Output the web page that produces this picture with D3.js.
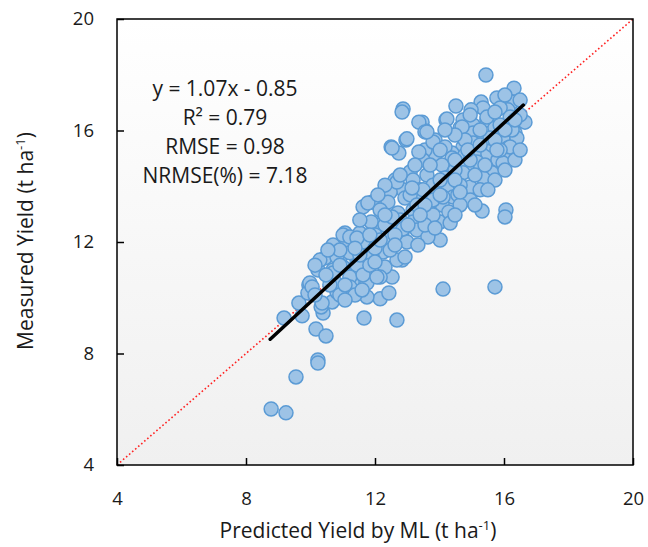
<!DOCTYPE html>
<html>
<head>
<meta charset="utf-8">
<script src="https://cdn.jsdelivr.net/npm/d3@7"></script>
<style>
  html, body { margin: 0; padding: 0; background: #ffffff; }
  svg { display: block; }
  text { font-family: "Open Sans", "Noto Sans", sans-serif; fill: #1a1a1a; }
</style>
</head>
<body>
<svg id="chart" width="648" height="547"></svg>
<script>
// Predicted yield by ML (t/ha) for each field observation
const predicted = [
  8.78, 9.24, 9.55, 10.23, 10.23, 10.17, 10.48, 9.18, 9.74, 9.64,
  9.95, 9.92, 10.39, 10.33, 10.67, 10.82, 11.66, 12.68, 14.11, 15.72,
  12.16, 11.75, 12.43, 12.53, 15.32, 16.06, 16.03, 15.44, 16.31, 12.87,
  15.78, 14.51, 15.29, 15.35, 14.98, 16.25, 16.12, 15.88, 14.20, 13.46,
  13.58, 13.86, 14.73, 15.04, 15.47, 14.64, 15.04, 15.72, 16.65, 16.34,
  15.97, 16.40, 15.35, 14.73, 14.39, 13.86, 13.55, 13.49, 15.16, 15.50,
  16.12, 15.81, 16.19, 15.16, 14.85, 14.33, 15.63, 12.84, 13.36, 13.55,
  14.70, 15.47, 16.19, 12.96, 12.50, 12.74, 13.36, 13.80, 14.17, 14.39,
  15.04, 15.57, 16.19, 15.97, 14.79, 14.08, 13.09, 12.62, 13.18, 13.61,
  14.17, 14.73, 14.95, 15.63, 15.35, 14.26, 13.80, 13.40, 12.87, 12.47,
  12.40, 12.93, 13.40, 13.92, 14.42, 11.91, 12.16, 12.71, 13.18, 13.64,
  14.08, 14.33, 13.80, 13.18, 12.68, 12.09, 11.63, 11.78, 12.68, 13.09,
  13.30, 11.88, 12.31, 12.78, 13.71, 14.02, 13.64, 14.02, 13.30, 12.84,
  12.47, 12.99, 12.00, 11.53, 11.07, 10.70, 11.22, 11.69, 12.25, 12.84,
  10.45, 10.91, 11.44, 11.91, 12.31, 10.70, 11.16, 11.69, 12.16, 9.98,
  10.76, 11.29, 11.75, 11.13, 11.63, 10.82, 11.22, 12.68, 11.01, 11.44,
  10.70, 11.22, 11.63, 12.06, 10.60, 11.22, 10.05, 10.36, 14.29, 14.33,
  13.64, 12.87, 12.53, 12.93, 13.80, 13.80, 14.11, 14.57, 14.23, 12.99,
  12.53, 13.61, 11.01, 11.22,
  15.88, 16.50, 16.34, 16.03, 15.72, 15.26, 14.95, 14.64, 14.48, 14.95,
  15.41, 15.88, 15.26, 14.79, 14.48, 14.17, 14.02, 14.48, 16.50, 16.25,
  14.64, 15.10, 15.50, 16.50, 16.03, 15.72,
  13.24, 12.78, 12.31, 12.09, 13.49, 12.31, 11.53, 12.62, 13.33, 12.00,
  12.47, 11.53, 13.55, 14.48, 13.15, 13.71, 14.02,
  10.23, 10.48, 10.14, 10.91, 11.38, 11.07, 10.29, 11.44, 11.84, 10.91,
  14.48, 14.88, 15.26, 15.72, 16.03, 14.95, 14.02, 13.55, 13.02, 12.62,
  12.16, 11.84, 11.38, 10.91, 10.54, 10.14, 11.07, 11.60, 12.00, 13.40,
  13.86, 14.64, 15.10, 16.34, 15.78
];

// Measured yield (t/ha), same order as predicted
const measured = [
  6.01, 5.87, 7.16, 7.77, 7.66, 8.88, 8.63, 9.27, 9.35, 9.81,
  10.46, 10.17, 9.45, 9.67, 9.85, 10.21, 9.27, 9.20, 10.31, 10.39,
  9.96, 10.03, 10.17, 10.74, 13.11, 13.15, 12.90, 17.99, 17.52, 16.77,
  17.17, 16.88, 17.02, 16.81, 16.74, 17.02, 16.74, 16.81, 16.38, 16.30,
  15.98, 15.66, 16.38, 16.20, 16.38, 16.09, 15.91, 16.09, 16.30, 15.91,
  15.73, 15.73, 15.66, 15.41, 15.19, 15.12, 15.30, 14.94, 15.30, 15.16,
  15.37, 14.94, 15.01, 14.87, 14.69, 14.69, 15.48, 16.66, 16.30, 15.95,
  16.13, 16.48, 16.48, 15.66, 15.41, 15.19, 15.23, 15.59, 15.41, 15.01,
  15.55, 15.73, 15.41, 14.83, 15.12, 14.76, 14.51, 14.22, 14.22, 14.40,
  14.30, 14.48, 13.97, 14.48, 14.30, 13.94, 14.04, 13.87, 13.87, 13.79,
  13.43, 13.58, 13.51, 13.69, 13.61, 13.43, 13.15, 13.04, 13.15, 13.15,
  13.33, 12.79, 12.86, 12.72, 12.72, 12.61, 13.26, 13.40, 14.15, 13.69,
  13.33, 12.72, 12.61, 12.79, 13.04, 12.72, 12.32, 12.07, 12.43, 12.36,
  12.14, 12.00, 12.25, 12.32, 12.32, 11.89, 11.89, 11.89, 11.64, 11.35,
  11.43, 11.43, 11.35, 11.46, 11.10, 11.00, 11.00, 10.92, 10.74, 10.53,
  10.56, 10.53, 10.53, 11.96, 12.00, 11.46, 11.61, 11.35, 11.10, 11.17,
  10.89, 10.74, 10.82, 10.74, 10.46, 10.39, 10.39, 9.81, 13.08, 12.68,
  12.18, 12.47, 12.90, 11.46, 12.97, 13.51, 13.61, 13.69, 16.41, 15.70,
  15.37, 15.95, 12.25, 12.18,
  16.20, 16.56, 14.94, 14.58, 14.22, 13.87, 13.51, 14.04, 14.58, 14.94,
  14.76, 15.30, 16.02, 15.66, 15.84, 16.02, 15.30, 14.22, 15.30, 16.02,
  13.33, 13.33, 13.87, 17.09, 17.27, 16.66,
  14.76, 14.40, 14.04, 13.69, 13.87, 12.97, 12.79, 12.25, 11.89, 11.78,
  11.71, 11.53, 12.61, 12.97, 13.94, 14.76, 14.22,
  11.00, 10.82, 10.10, 10.10, 10.10, 9.92, 11.35, 12.14, 11.17, 11.71,
  14.94, 15.30, 15.48, 15.66, 16.02, 16.56, 13.69, 13.33, 12.61, 11.89,
  12.07, 12.25, 11.78, 11.17, 11.71, 11.17, 10.46, 10.28, 11.28, 12.97,
  12.50, 13.79, 14.40, 16.38, 15.30
];

// Axis ticks and fitted statistics
const xTicks = [4, 8, 12, 16, 20];
const yTicks = [4, 8, 12, 16, 20];
const slope = 1.07;
const intercept = -0.85;
const fitRange = [8.75, 16.6];
const statLines = ["y = 1.07x - 0.85", "R² = 0.79", "RMSE = 0.98", "NRMSE(%) = 7.18"];

const svg = d3.select("#chart");
const margin = { left: 117, right: 15, top: 19, bottom: 82 };
const W = 648, H = 547;

const x = d3.scaleLinear().domain([4, 20]).range([margin.left, W - margin.right]);
const y = d3.scaleLinear().domain([4, 20]).range([H - margin.bottom, margin.top]);

// plot area background: white fading to light grey
const defs = svg.append("defs");
const grad = defs.append("linearGradient")
  .attr("id", "plotBg").attr("x1", 0).attr("y1", 0).attr("x2", 0).attr("y2", 1);
grad.append("stop").attr("offset", "0%").attr("stop-color", "#ffffff");
grad.append("stop").attr("offset", "100%").attr("stop-color", "#f0f0f0");

svg.append("rect")
  .attr("x", x(4)).attr("y", y(20))
  .attr("width", x(20) - x(4)).attr("height", y(4) - y(20))
  .attr("fill", "url(#plotBg)");

// 1:1 reference line
svg.append("line")
  .attr("x1", x(4)).attr("y1", y(4)).attr("x2", x(20)).attr("y2", y(20))
  .attr("stroke", "#ff2020").attr("stroke-width", 1.6)
  .attr("stroke-dasharray", "1.6,2.4");

// observations
const pts = predicted.map((p, i) => [p, measured[i]]);
svg.append("g").selectAll("circle")
  .data(pts)
  .join("circle")
  .attr("cx", d => x(d[0]))
  .attr("cy", d => y(d[1]))
  .attr("r", 7)
  .attr("fill", "#9dc3e6")
  .attr("stroke", "#5b9bd5")
  .attr("stroke-width", 1.5);

// fitted regression line
svg.append("line")
  .attr("x1", x(fitRange[0])).attr("y1", y(slope * fitRange[0] + intercept))
  .attr("x2", x(fitRange[1])).attr("y2", y(slope * fitRange[1] + intercept))
  .attr("stroke", "#000").attr("stroke-width", 3.5).attr("stroke-linecap", "round");

// frame
svg.append("rect")
  .attr("x", x(4)).attr("y", y(20))
  .attr("width", x(20) - x(4)).attr("height", y(4) - y(20))
  .attr("fill", "none").attr("stroke", "#000").attr("stroke-width", 1.5);

// axes with inward ticks
const xAxis = svg.append("g")
  .attr("transform", `translate(0,${y(4)})`)
  .call(d3.axisBottom(x).tickValues(xTicks).tickSizeInner(-7).tickSizeOuter(0).tickPadding(27));
const yAxis = svg.append("g")
  .attr("transform", `translate(${x(4)},0)`)
  .call(d3.axisLeft(y).tickValues(yTicks).tickSizeInner(-7).tickSizeOuter(0).tickPadding(23));

[xAxis, yAxis].forEach(g => {
  g.select(".domain").remove();
  g.selectAll(".tick line").attr("stroke", "#000").attr("stroke-width", 1.5);
  g.selectAll(".tick text")
    .attr("font-family", "'Open Sans', sans-serif")
    .attr("font-size", 18.5).attr("fill", "#1a1a1a");
});

// statistics annotation
svg.append("g").selectAll("text")
  .data(statLines)
  .join("text")
  .attr("x", 225)
  .attr("y", (d, i) => 96 + i * 29)
  .attr("text-anchor", "middle")
  .attr("font-size", 21)
  .text(d => d);

// axis titles
const xt = svg.append("text")
  .attr("x", 358).attr("y", 538)
  .attr("text-anchor", "middle").attr("font-size", 21);
xt.append("tspan").text("Predicted Yield by ML (t ha");
xt.append("tspan").attr("font-size", 13).attr("dy", -8).text("-1");
xt.append("tspan").attr("dy", 8).text(")");

const yt = svg.append("text")
  .attr("transform", `translate(33,241) rotate(-90)`)
  .attr("text-anchor", "middle").attr("font-size", 21);
yt.append("tspan").text("Measured Yield (t ha");
yt.append("tspan").attr("font-size", 13).attr("dy", -8).text("-1");
yt.append("tspan").attr("dy", 8).text(")");
</script>
</body>
</html>
